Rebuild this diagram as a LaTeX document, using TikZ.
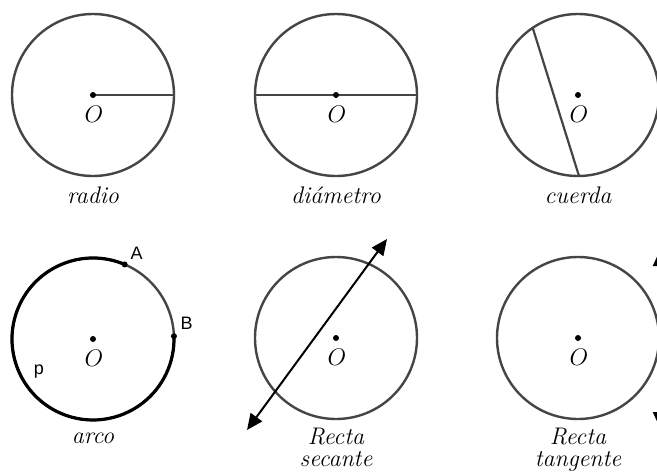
\documentclass[tikz,border=0pt]{standalone}
\usepackage{fontspec}
\newfontfamily\lsans{Liberation Sans}
\usetikzlibrary{arrows.meta,calc}
\definecolor{circgray}{HTML}{454545}
\begin{document}
\begin{tikzpicture}[x=0.5pt,y=0.5pt,
  circ/.style={draw=circgray,line width=1.2pt},
  seg/.style={draw=circgray,line width=1.1pt},
  ctr/.style={circle,fill=black,inner sep=0pt,minimum size=3pt},
  lbl/.style={font=\fontsize{12}{14}\selectfont\itshape,anchor=base,inner sep=0pt},
  olbl/.style={font=\fontsize{12}{14}\selectfont,anchor=base,inner sep=0pt},
  plbl/.style={font=\fontsize{9}{11}\selectfont\lsans,inner sep=0pt},
  arr/.style={draw=black,line width=1pt,{Triangle[length=8pt,width=7pt]}-{Triangle[length=8pt,width=7pt]}}]
\useasboundingbox (0,0) rectangle (657,473);
\clip (0,0) rectangle (657,473);
% centers
\coordinate (c1) at (93,378);
\coordinate (c2) at (336,378);
\coordinate (c3) at (578,378);
\coordinate (c4) at (93,134);
\coordinate (c5) at (336,135);
\coordinate (c6) at (578,135);
% circles
\foreach \c in {c1,c2,c3,c4,c5,c6} \draw[circ] (\c) circle[radius=81];
% radio
\coordinate (r1) at ($(c1)+(0:81)$);
\draw[seg] (c1) -- (r1);
% diametro
\coordinate (d1) at ($(c2)+(180:81)$);
\coordinate (d2) at ($(c2)+(0:81)$);
\draw[seg] (d1) -- (d2);
% cuerda
\coordinate (ch1) at ($(c3)+(124:81)$);
\coordinate (ch2) at ($(c3)+(270.7:81)$);
\draw[seg] (ch1) -- (ch2);
% arco
\coordinate (pA) at ($(c4)+(67:81)$);
\coordinate (pB) at ($(c4)+(2:81)$);
\draw[black,line width=1.6pt] (pA) arc[start angle=67,end angle=362,radius=81];
\node[ctr] (nA) at (pA) {};
\node[ctr] (nB) at (pB) {};
\node[plbl] (tA) at (136.5,219.5) {A};
\node[plbl] (tB) at (186.5,149.5) {B};
\node[plbl] (tp) at (39,101) {p};
% secante
\coordinate (s1) at (247,43);
\coordinate (s2) at (387,234);
\draw[arr] (s1) -- (s2);
% tangente
\coordinate (t1) at (660,45);
\coordinate (t2) at (660,223);
\draw[arr] (t1) -- (t2);
% center dots and O labels
\foreach \c in {c1,c2,c3,c4,c5,c6} {
  \node[ctr] (dot\c) at (\c) {};
  \node[olbl] (O\c) at ($(\c)+(1,-27)$) {$O$};
}
% captions
\node[lbl] (cap1) at (93,270) {radio};
\node[lbl] (cap2) at (336,270) {diámetro};
\node[lbl] (cap3) at (578,270) {cuerda};
\node[lbl] (cap4) at (93,30) {arco};
\node[lbl] (cap5a) at (336,29) {Recta};
\node[lbl] (cap5b) at (336,7) {secante};
\node[lbl] (cap6a) at (578,29) {Recta};
\node[lbl] (cap6b) at (578,7) {tangente};
\end{tikzpicture}
\end{document}
